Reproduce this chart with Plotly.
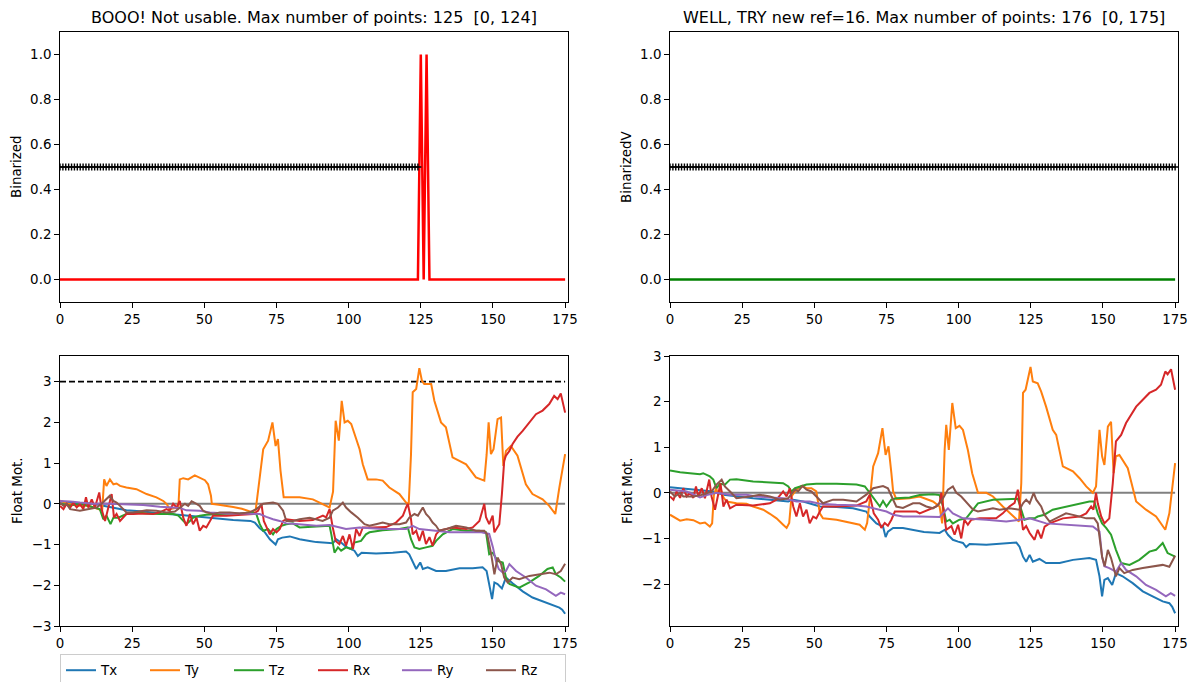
import plotly.graph_objects as go

# the page body has an 8px default margin; the figure is sized/positioned to fill the 1196x682 window
OFF = 8
FW, FH = 1196 - OFF, 682 - OFF

# ---------------- data ----------------
names = ["Tx", "Ty", "Tz", "Rx", "Ry", "Rz"]
colors = ["#1f77b4", "#ff7f0e", "#2ca02c", "#d62728", "#9467bd", "#8c564b"]

valid_left = list(range(125))      # frames 0..124
valid_right = list(range(176))     # frames 0..175
threshold_y = 0.5
bin_left_x = [0, 124, 125, 126, 127, 128, 175]
bin_left_y = [0, 0, 1, 0, 1, 0, 0]
bin_right_x = [0, 175]
bin_right_y = [0, 0]
fd_limit = 3.0
x_ticks = [0, 25, 50, 75, 100, 125, 150, 175]

# ---- left motion (original reference) ----
L_Tx_x = [0,5,11.5,15,17.3,23,29,34.6,41,45,52,60,66,67.5,69.2,71,72.7,74.7,75.5,77,79.6,83,86.5,88.8,94.5,95.7,97.4,99,102,103.2,104.5,109.5,115.3,119.9,121,122.2,123.4,124.8,125.7,127.4,130.3,133.7,138.4,143,146.4,147.8,148.7,149.7,150.5,151.6,153.1,154.5,156.8,160.3,163.7,167.2,170.7,173,174,175]
L_Tx_y = [0.06,0.02,0.0,-0.05,-0.09,-0.16,-0.19,-0.24,-0.27,-0.3,-0.35,-0.4,-0.42,-0.46,-0.6,-0.7,-0.87,-1.0,-0.87,-0.83,-0.8,-0.87,-0.91,-0.94,-0.97,-0.87,-0.95,-1.05,-1.15,-1.28,-1.2,-1.22,-1.2,-1.17,-1.24,-1.44,-1.6,-1.44,-1.6,-1.56,-1.65,-1.65,-1.58,-1.58,-1.56,-1.65,-2.0,-2.34,-1.93,-1.97,-2.08,-1.81,-1.95,-2.15,-2.3,-2.4,-2.5,-2.55,-2.6,-2.7]

L_Ty_x = [0,3,6,10,13,14.6,15.3,16.1,17.3,18.5,19.6,20.8,23,26.5,27.7,30,33.4,35.8,36.9,38,41,41.5,42.7,44.4,46.7,48.4,50.2,51.3,52.3,52.6,55,60,63,66.3,67.8,69.2,70.4,72.1,73.6,74.7,75.5,76.4,77.5,80,83,87.6,90,93.4,94.6,95,95.5,96.6,97.6,98.6,99.7,100.9,102,103.8,104.9,106.6,109.5,111.8,114.1,117.6,119.9,120.8,121.6,122.2,123.4,124.5,125.4,126.2,128.6,129.7,132,133.7,136,138.4,140.7,142.4,144.1,147,147.8,148.5,149.3,150.2,151.6,152.8,153.6,154.5,156.2,158.5,161.4,163.7,167.2,169.5,171.6,173,175]
L_Ty_y = [0.08,0.0,-0.05,-0.05,-0.12,-0.17,0.6,0.44,0.6,0.48,0.5,0.44,0.4,0.36,0.32,0.24,0.16,0.07,0.0,-0.13,-0.09,0.6,0.63,0.6,0.7,0.65,0.58,0.48,0.2,0.0,-0.02,-0.08,-0.12,-0.2,-0.15,0.65,1.34,1.55,2.0,1.42,1.59,0.81,0.16,0.16,0.16,0.11,0.03,-0.09,0.3,1.06,2.04,1.55,2.53,2.0,2.04,1.96,1.71,1.34,0.97,0.6,0.6,0.57,0.4,0.24,0.03,-0.02,1.2,2.74,2.82,3.33,3.02,2.94,2.94,2.53,2.0,1.88,1.14,1.06,0.97,0.81,0.65,0.57,1.2,2.0,1.22,1.34,2.08,2.12,0.93,1.3,1.42,1.18,0.48,0.24,0.11,-0.05,-0.25,0.4,1.22]

L_Tz_x = [0,3.5,7,11.5,13.8,15,16.1,17.5,18.5,20.2,23,26.5,30,34.6,39.2,41,42.1,43.8,45,46.1,48.4,50.7,55.4,62.3,66.9,68,69.2,70.4,72.1,73.8,75,76.7,78.4,80.7,83,88.8,93.4,94,95.1,96.3,97.4,99.1,100.9,102,104.3,106,107.2,111.8,117.6,120.5,121.6,122.8,124.5,126.8,129.1,130.3,132.6,136,140.7,145.3,147.6,148.7,149.9,151.6,153.4,154.5,155.7,159.1,162.6,166,168.9,170.7,171.8,173.5,175]
L_Tz_y = [0.0,-0.04,0.0,-0.09,-0.13,-0.38,-0.29,-0.5,-0.34,-0.34,-0.25,-0.21,-0.24,-0.25,-0.25,-0.29,-0.38,-0.5,-0.42,-0.34,-0.29,-0.27,-0.25,-0.24,-0.21,-0.25,-0.5,-0.66,-0.62,-0.75,-0.62,-0.54,-0.5,-0.48,-0.58,-0.56,-0.54,-0.75,-1.2,-1.07,-1.15,-1.07,-1.11,-0.95,-0.91,-0.75,-0.7,-0.65,-0.62,-0.58,-0.87,-1.07,-1.11,-1.07,-1.03,-0.91,-0.75,-0.62,-0.66,-0.66,-0.7,-1.24,-1.2,-1.4,-1.44,-1.81,-1.97,-2.06,-1.93,-1.77,-1.6,-1.56,-1.73,-1.81,-1.91]

L_Rx_x = [0,1.2,2.3,3.5,4.6,5.8,6.9,8.1,9,9.8,11,12.1,13.6,14.4,15.6,16.7,17.9,18.7,19.6,20.8,23,25.4,28.8,32.3,34.6,36.9,38,39.2,40.4,41.5,42.7,43.8,45,46.1,47.3,48.4,49.6,50.7,51.9,53,57.7,62.3,66.9,68.6,69.8,70.6,71.5,72.7,73.8,75,76.1,77.3,78.4,83,87.6,91.1,92.2,93.4,94.5,95.5,96.8,98,99.1,100.3,101.5,102.6,103.8,104.9,108.4,113,116.4,118.8,119.9,120.5,121.6,122.2,123.4,124.5,125.7,126.8,128,129.1,130.3,131.4,136,140.7,143,145.3,147,147.6,148.7,149.9,150.5,152.2,153.1,153.9,154.5,155.7,156.8,158.5,160.3,162.6,164.9,167.2,169.5,171.2,172.4,173.5,175]
L_Rx_y = [-0.05,-0.13,0.0,-0.1,0.03,-0.09,0.0,-0.13,0.16,-0.09,0.11,-0.09,0.28,-0.13,-0.42,-0.09,0.24,-0.34,-0.25,-0.42,-0.25,-0.25,-0.24,-0.25,-0.21,-0.13,-0.17,0.0,-0.09,0.07,-0.34,-0.54,-0.25,-0.5,-0.34,-0.66,-0.54,-0.58,-0.42,-0.29,-0.29,-0.27,-0.25,-0.17,0.0,-0.42,-0.58,-0.75,-0.62,-0.7,-0.62,-0.42,-0.38,-0.42,-0.4,-0.29,-0.33,-0.13,-0.58,-0.91,-0.99,-0.79,-1.03,-0.75,-1.11,-0.62,-0.79,-0.58,-0.58,-0.57,-0.46,-0.29,-0.09,0.0,-0.37,-0.75,-0.66,-0.91,-0.66,-0.99,-0.82,-1.03,-0.75,-0.66,-0.58,-0.62,-0.58,-0.42,0.0,-0.33,-0.5,-0.29,-0.7,-0.5,0.24,1.06,1.18,1.3,1.47,1.65,1.79,2.0,2.2,2.29,2.45,2.65,2.57,2.71,2.24]

L_Ry_x = [0,3.5,6.9,11.5,15,18.5,23,28.8,34.6,38,41.5,43.8,48.4,51.9,57.7,63.4,66.9,69.2,71.5,73.8,76.1,78.4,80.7,83,88.8,93.4,94.5,99.1,103.8,111.8,119.9,122.2,124.5,129.1,135,146,148.7,150,151,152,153.4,154.5,155.7,158,161.4,164.9,168.4,171.8,173.5,175]
L_Ry_y = [0.07,0.06,0.03,0.0,0.01,0.0,0.0,-0.03,-0.07,-0.09,-0.1,-0.16,-0.17,-0.21,-0.24,-0.24,-0.25,-0.25,-0.32,-0.38,-0.42,-0.48,-0.49,-0.5,-0.54,-0.52,-0.54,-0.62,-0.58,-0.62,-0.62,-0.54,-0.62,-0.66,-0.7,-0.7,-0.74,-1.07,-1.4,-1.6,-1.69,-1.65,-1.48,-1.65,-1.81,-2.01,-2.1,-2.26,-2.18,-2.22]

L_Rz_x = [0,1.2,2.3,3.5,6.9,10.4,12.7,14.4,16.1,17.3,18.5,19.6,20.8,23,25.4,27.7,30,33.4,36.9,39.8,41.5,43.3,44.4,45.6,47.3,48.4,49.6,50.7,53,55.4,58.8,62.3,65.7,68,70.4,73.8,75.5,77.3,78.4,80.7,83,86.5,91,93.4,94.5,96.3,98,99.1,100.9,103.2,105.5,107.2,109.5,111.8,114.1,117.6,119.9,121,122.8,124,125.7,126.8,128,129.1,130.3,131.4,133.7,137.2,140.7,144.1,147,148,149.3,150.5,151.6,152.8,153.9,155.1,156.8,159.1,162.6,166,169.5,171.8,173.5,175]
L_Rz_y = [0.03,-0.05,0.0,-0.13,-0.17,-0.13,-0.09,0.0,0.11,0.2,0.07,0.03,-0.05,-0.21,-0.21,-0.19,-0.16,-0.17,-0.21,-0.19,-0.09,0.0,-0.05,0.06,0.0,-0.05,-0.17,-0.21,-0.25,-0.21,-0.21,-0.24,-0.21,-0.13,0.0,0.03,0.0,-0.17,-0.42,-0.42,-0.38,-0.34,-0.42,-0.34,-0.17,-0.09,0.03,-0.09,-0.21,-0.34,-0.5,-0.54,-0.5,-0.46,-0.5,-0.5,-0.46,-0.34,-0.25,-0.29,-0.09,-0.25,-0.34,-0.46,-0.54,-0.66,-0.62,-0.54,-0.58,-0.66,-0.66,-0.75,-1.2,-1.73,-1.32,-1.48,-1.81,-1.93,-1.81,-1.85,-1.77,-1.73,-1.69,-1.73,-1.65,-1.47]

# ---- right motion (new reference frame 16) ----
R_Tx_x = [0,5.8,11.5,15,18.5,23,28.8,34.6,41,42.7,46.1,52,57.7,63.4,68,69.2,71.5,73.8,74.7,75.5,77.3,80.7,85.4,88,93.4,95.2,96.3,98,99.8,101.5,102.6,103.8,109.6,115.3,120,121.1,122.3,123.4,124.6,125.7,128,130.3,135,139.6,145.3,147.6,148.8,149.7,150.5,151.7,153.2,154.5,156.8,160.3,163.8,167.2,170.7,173,174,175]
R_Tx_y = [0.12,0.08,0.05,0.03,-0.04,-0.08,-0.12,-0.15,-0.19,-0.15,-0.19,-0.3,-0.31,-0.34,-0.41,-0.52,-0.67,-0.74,-0.97,-0.85,-0.77,-0.77,-0.83,-0.86,-0.88,-0.81,-0.92,-1.03,-1.07,-1.1,-1.19,-1.12,-1.14,-1.12,-1.09,-1.18,-1.4,-1.51,-1.36,-1.51,-1.45,-1.54,-1.54,-1.47,-1.43,-1.47,-1.83,-2.27,-1.91,-1.87,-2.02,-1.76,-1.83,-1.98,-2.16,-2.27,-2.38,-2.42,-2.5,-2.64]

R_Ty_x = [0,3.5,5.8,8.1,10.4,12.1,13.8,14.6,15.2,16,16.7,17.5,18.5,19.6,23,26.5,28.8,32.3,34.6,36.9,39.2,40.4,41.3,42.1,43.3,44.4,45.6,47.3,49,50.7,51.9,53,57.7,62.3,65.7,67.5,68.3,69.2,70.4,72.1,73.6,74.7,75.7,76.7,77.3,78.4,83,86.5,91.1,93.4,94.3,95.15,95.7,96.6,97.8,99,100.3,101.5,103.2,104.7,106.7,109.6,111.9,115.3,118.2,120.9,121.7,122.3,123.2,124.9,125.7,127.4,128.6,130.3,132.6,133.8,136.1,139.6,141.9,144.2,146.5,147.6,148.8,149.7,150.5,151.7,152.8,153.7,154.5,155.7,158.6,161.5,164.9,168.4,171.6,173,175]
R_Ty_y = [-0.48,-0.61,-0.58,-0.6,-0.67,-0.65,-0.74,-0.67,-0.05,0.1,-0.05,0.1,-0.1,-0.19,-0.23,-0.24,-0.3,-0.37,-0.46,-0.56,-0.7,-0.77,-0.66,-0.08,0.03,0.1,0.15,0.1,0.1,0.03,-0.45,-0.56,-0.59,-0.65,-0.7,-0.81,-0.66,-0.15,0.58,0.87,1.42,0.83,1.02,0.43,0.03,-0.14,-0.12,-0.08,-0.19,-0.3,-0.67,0.94,1.49,0.94,1.97,1.42,1.47,1.38,0.94,0.43,0.0,0.0,-0.08,-0.3,-0.48,-0.63,0.21,2.19,2.26,2.76,2.44,2.4,2.22,1.89,1.38,1.27,0.58,0.47,0.32,0.14,0.0,0.14,1.38,0.8,0.61,1.45,1.56,0.43,0.8,0.83,0.54,-0.19,-0.37,-0.52,-0.81,-0.45,0.65]

R_Tz_x = [0,3.5,6.9,10.4,11.5,13.8,15,16.1,17.3,19,20.8,23,28.8,34.6,39.2,41,42.1,43.3,45,47.3,50.7,57.7,64.6,67.5,69.2,70.9,72.7,73.8,75,76.7,78.4,83,86.5,91.1,93.4,94.6,95.7,96.9,98,100.3,102.6,105,106.7,111.9,116.5,120.5,121.7,122.8,124.6,126.3,127.4,129.7,132.6,137.2,141.9,145.3,147,148.2,149.7,151.1,152.8,154.5,156.3,159.2,162.6,166.1,168.4,170.7,172.4,175]
R_Tz_y = [0.49,0.45,0.43,0.41,0.43,0.36,0.29,0.1,0.2,0.18,0.29,0.3,0.25,0.23,0.21,0.14,0.03,0.1,0.14,0.18,0.2,0.2,0.18,0.14,0.0,-0.15,-0.3,-0.18,-0.3,-0.15,-0.12,-0.1,-0.05,-0.03,-0.05,-0.3,-0.63,-0.59,-0.67,-0.59,-0.56,-0.37,-0.23,-0.15,-0.14,-0.13,-0.37,-0.59,-0.56,-0.56,-0.52,-0.48,-0.37,-0.3,-0.23,-0.19,-0.19,-0.45,-0.67,-0.77,-0.92,-1.25,-1.54,-1.58,-1.47,-1.29,-1.25,-1.1,-1.32,-1.4]

R_Rx_x = [0,1.2,2.3,3.5,4.6,5.8,6.9,8.1,9,9.8,11,12.1,13.6,14.4,15.6,16.7,17.5,18.5,19.6,20.8,23,28.8,34.6,36.9,39.2,40.4,41.5,42.7,43.8,45,46.1,47.3,48.4,49.6,50.7,51.9,53,57.7,64.6,68,69.2,70.6,72.1,73.2,74.4,75.5,76.7,77.9,80.7,85.4,86.5,90,92.3,93.4,94,94.8,95.7,97.5,98.6,99.8,100.9,102,103.2,104.4,107.3,113,115.3,117.6,119.4,120.5,121.1,122.3,123.4,124.6,126.3,127.4,128.6,129.8,131.5,136.1,141.9,144.2,145.9,146.7,147.6,148.2,149.4,150.5,152.2,153.4,154.5,156.3,158,159.7,161.5,163.8,166.1,168.4,170.1,171.6,172.4,173.6,175]
R_Rx_y = [-0.08,-0.15,0.03,-0.11,0.1,-0.08,0.0,-0.11,0.14,-0.08,0.1,-0.12,0.29,-0.08,-0.37,0.0,0.21,-0.3,-0.15,-0.34,-0.26,-0.28,-0.23,-0.15,0.03,-0.08,0.1,-0.3,-0.52,-0.23,-0.52,-0.37,-0.67,-0.52,-0.56,-0.41,-0.3,-0.3,-0.28,-0.19,-0.04,-0.45,-0.59,-0.77,-0.66,-0.72,-0.59,-0.41,-0.41,-0.41,-0.45,-0.37,-0.3,-0.22,0.0,-0.4,-0.81,-0.73,-0.92,-0.7,-1.0,-0.59,-0.7,-0.59,-0.56,-0.56,-0.45,-0.3,-0.22,0.07,-0.22,-0.81,-0.73,-0.88,-1.03,-0.81,-1.0,-0.74,-0.67,-0.56,-0.52,-0.45,-0.3,-0.37,0.0,-0.23,-0.52,-0.67,-0.56,0.21,1.13,1.27,1.53,1.71,1.89,2.04,2.19,2.26,2.37,2.66,2.6,2.71,2.26]

R_Ry_x = [0,5.8,10.4,12.7,16.1,20.8,26.5,30,34.6,39.2,41.5,43.8,48.4,51.9,57.7,63.4,68,70.4,72.7,75,77.3,80.7,86.5,90,93.4,94.6,96.3,98,101.5,109.6,116.5,121.1,124.6,130.3,138.4,146.5,148.8,149.7,150.5,152.2,154.5,156.3,158,161.5,164.9,168.4,171.8,173.5,175]
R_Ry_y = [0.07,0.03,-0.1,-0.05,0.0,-0.04,-0.04,-0.08,-0.1,-0.12,-0.15,-0.19,-0.19,-0.24,-0.26,-0.27,-0.3,-0.34,-0.37,-0.41,-0.48,-0.52,-0.52,-0.52,-0.53,-0.45,-0.34,-0.45,-0.56,-0.59,-0.63,-0.59,-0.56,-0.67,-0.7,-0.74,-0.85,-1.4,-1.61,-1.65,-1.73,-1.54,-1.69,-1.83,-2.02,-2.13,-2.27,-2.2,-2.26]

R_Rz_x = [0,1.7,3.5,4.6,8.1,11.5,14.4,16.1,17.9,19,20.8,23,27.7,31.1,34.6,38,40.9,43.3,44.4,45.9,47.3,49,50.7,53,56.5,60,64.6,68,70.4,73.8,75.5,76.7,78.4,80.7,84.2,86.5,88.8,91.1,92.8,94.6,96.3,98,99.2,100.9,103.2,105,106.7,109.6,111.9,114.2,117.6,121.1,122.3,123.4,124.6,126,126.9,128.6,129.7,131.5,135,137.2,140.7,144.2,147,148.2,149.7,150.6,151.7,152.8,154.5,155.7,157.4,160.3,163.8,167.2,170.7,173,175]
R_Rz_y = [0.03,-0.08,0.0,-0.08,-0.08,-0.04,0.03,0.18,0.29,0.14,0.03,-0.12,-0.08,-0.04,-0.08,-0.15,-0.12,0.07,0.03,0.15,0.07,0.03,-0.08,-0.23,-0.15,-0.15,-0.19,-0.04,0.1,0.15,0.1,-0.08,-0.3,-0.33,-0.23,-0.23,-0.3,-0.34,-0.27,-0.12,0.07,0.14,0.0,-0.08,-0.23,-0.37,-0.41,-0.37,-0.34,-0.37,-0.34,-0.37,-0.23,-0.15,-0.23,0.0,-0.15,-0.3,-0.48,-0.63,-0.52,-0.45,-0.5,-0.56,-0.56,-0.67,-1.4,-1.61,-1.25,-1.43,-1.83,-1.65,-1.76,-1.69,-1.65,-1.62,-1.58,-1.62,-1.38]

left_series = [(L_Tx_x, L_Tx_y), (L_Ty_x, L_Ty_y), (L_Tz_x, L_Tz_y),
               (L_Rx_x, L_Rx_y), (L_Ry_x, L_Ry_y), (L_Rz_x, L_Rz_y)]
right_series = [(R_Tx_x, R_Tx_y), (R_Ty_x, R_Ty_y), (R_Tz_x, R_Tz_y),
                (R_Rx_x, R_Rx_y), (R_Ry_x, R_Ry_y), (R_Rz_x, R_Rz_y)]

title_left = "BOOO! Not usable. Max number of points: 125  [0, 124]"
title_right = "WELL, TRY new ref=16. Max number of points: 176  [0, 175]"

# ---------------- figure ----------------
FONT = "DejaVu Sans"
FS = 13.4
fig = go.Figure()

mk = dict(symbol="cross-thin", size=5, line=dict(color="black", width=1.4))

# top-left
fig.add_trace(go.Scatter(x=bin_left_x, y=bin_left_y, mode="lines",
                         line=dict(color="#ff0000", width=2.5), showlegend=False,
                         xaxis="x", yaxis="y"))
fig.add_trace(go.Scatter(x=valid_left, y=[threshold_y] * len(valid_left), mode="markers",
                         marker=mk, showlegend=False, xaxis="x", yaxis="y"))
# top-right
fig.add_trace(go.Scatter(x=bin_right_x, y=bin_right_y, mode="lines",
                         line=dict(color="#008000", width=2.5), showlegend=False,
                         xaxis="x2", yaxis="y2"))
fig.add_trace(go.Scatter(x=valid_right, y=[threshold_y] * len(valid_right), mode="markers",
                         marker=mk, showlegend=False, xaxis="x2", yaxis="y2"))

# bottom-left
fig.add_trace(go.Scatter(x=[0, 175], y=[0, 0], mode="lines", line=dict(color="#808080", width=2),
                         showlegend=False, xaxis="x3", yaxis="y3"))
fig.add_trace(go.Scatter(x=[0, 175], y=[fd_limit, fd_limit], mode="lines",
                         line=dict(color="black", width=1.6, dash="6px,3px"),
                         showlegend=False, xaxis="x3", yaxis="y3"))
for (sx, sy), n, c in zip(left_series, names, colors):
    fig.add_trace(go.Scatter(x=sx, y=sy, mode="lines", name=n, line=dict(color=c, width=2),
                             showlegend=True, xaxis="x3", yaxis="y3"))
# bottom-right
fig.add_trace(go.Scatter(x=[0, 175], y=[0, 0], mode="lines", line=dict(color="#808080", width=2),
                         showlegend=False, xaxis="x4", yaxis="y4"))
for (sx, sy), n, c in zip(right_series, names, colors):
    fig.add_trace(go.Scatter(x=sx, y=sy, mode="lines", name=n, line=dict(color=c, width=2),
                             showlegend=False, xaxis="x4", yaxis="y4"))


def px2x(px):
    return (px - OFF) / FW


def py2y(py):
    return 1 - (py - OFF) / FH


xl = [px2x(60), px2x(568)]
xr = [px2x(670), px2x(1178)]
yt = [py2y(302), py2y(32)]
yb = [py2y(626), py2y(356)]


def xax(dom, anchor):
    return dict(domain=dom, anchor=anchor, range=[0, 176], tickvals=x_ticks,
                ticks="outside", ticklen=4.9, tickwidth=1, tickcolor="black",
                showline=True, mirror=True, linecolor="black", linewidth=1,
                showgrid=False, zeroline=False, automargin=False,
                tickfont=dict(size=FS, color="black"))


def yax(dom, anchor, rng, tv, fmt=None):
    d = dict(domain=dom, anchor=anchor, range=rng, tickvals=tv,
             ticks="outside", ticklen=4.9, tickwidth=1, tickcolor="black",
             showline=True, mirror=True, linecolor="black", linewidth=1,
             showgrid=False, zeroline=False, automargin=False,
             tickfont=dict(size=FS, color="black"))
    if fmt:
        d["tickformat"] = fmt
    return d


bin_ticks = [0.0, 0.2, 0.4, 0.6, 0.8, 1.0]
fig.update_layout(
    width=FW, height=FH, autosize=False,
    margin=dict(l=0, r=0, t=0, b=0, pad=0, autoexpand=False),
    paper_bgcolor="white", plot_bgcolor="white",
    font=dict(family=FONT, size=FS, color="black"),
    xaxis=xax(xl, "y"), yaxis=yax(yt, "x", [-0.1, 1.1], bin_ticks, ".1f"),
    xaxis2=xax(xr, "y2"), yaxis2=yax(yt, "x2", [-0.1, 1.1], bin_ticks, ".1f"),
    xaxis3=xax(xl, "y3"), yaxis3=yax(yb, "x3", [-3.0, 3.63], [-3, -2, -1, 0, 1, 2, 3]),
    xaxis4=xax(xr, "y4"), yaxis4=yax(yb, "x4", [-2.92, 3.0], [-2, -1, 0, 1, 2, 3]),
    legend=dict(orientation="h", x=px2x(60), xanchor="left", y=py2y(654), yanchor="top",
                entrywidth=39, entrywidthmode="pixels", itemwidth=30,
                bordercolor="#cccccc", borderwidth=1, bgcolor="white",
                font=dict(size=FS, family=FONT)),
    showlegend=True,
)


def label(text, x, y, size=FS, angle=0):
    return dict(text=text, x=x, y=y, xref="paper", yref="paper", xanchor="center",
                yanchor="middle", showarrow=False, textangle=angle,
                font=dict(size=size, family=FONT, color="black"))


ann = [
    label(title_left, (xl[0] + xl[1]) / 2, py2y(18), size=16),
    label(title_right, (xr[0] + xr[1]) / 2, py2y(18), size=16),
    label("Binarized", px2x(16), (yt[0] + yt[1]) / 2, angle=-90),
    label("BinarizedV", px2x(626), (yt[0] + yt[1]) / 2, angle=-90),
    label("Float Mot.", px2x(17), (yb[0] + yb[1]) / 2, angle=-90),
    label("Float Mot.", px2x(627), (yb[0] + yb[1]) / 2, angle=-90),
]
fig.update_layout(annotations=ann)

fig.write_html("out.html")
